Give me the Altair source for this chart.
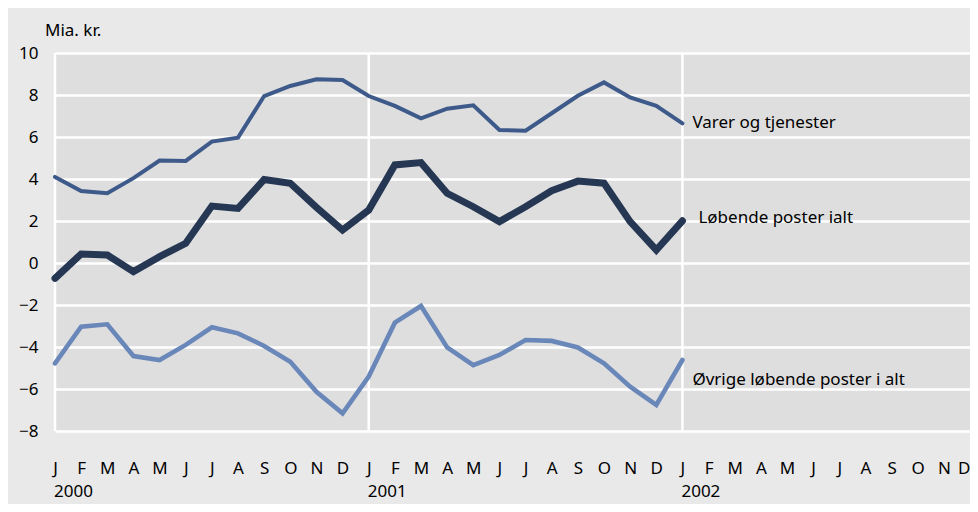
import altair as alt
import pandas as pd

month_letters = ["J", "F", "M", "A", "M", "J", "J", "A", "S", "O", "N", "D"]
years = ["2000", "2001", "2002"]
year_start_index = [0, 12, 24]
month_index = list(range(25))

varer = [4.1, 3.43, 3.32, 4.04, 4.88, 4.86, 5.78, 5.97, 7.95, 8.43, 8.75, 8.71,
         7.95, 7.48, 6.89, 7.35, 7.51, 6.33, 6.3, 7.13, 7.96, 8.6, 7.88, 7.48, 6.65]
lobende = [-0.73, 0.43, 0.38, -0.41, 0.3, 0.94, 2.71, 2.6, 3.98, 3.8, 2.65, 1.57,
           2.52, 4.67, 4.78, 3.32, 2.68, 1.97, 2.68, 3.44, 3.9, 3.8, 1.97, 0.62, 2.01]
ovrige = [-4.78, -3.03, -2.92, -4.43, -4.62, -3.9, -3.06, -3.35, -3.95, -4.7, -6.13, -7.16,
          -5.41, -2.84, -2.05, -4.02, -4.86, -4.38, -3.67, -3.71, -4.02, -4.78, -5.89, -6.76, -4.62]

series_names = ["Varer og tjenester", "Løbende poster ialt", "Øvrige løbende poster i alt"]
series_values = [varer, lobende, ovrige]
colors = ["#3e5a8a", "#263753", "#6a87ba"]
widths = [4, 7, 4.6]
label_y = [6.65, 2.15, -5.57]
label_dx = [10, 16, 10]
y_ticks = [-8, -6, -4, -2, 0, 2, 4, 6, 8, 10]

FONT = "Noto Sans"
FS = 17
W, H = 915, 378

label_expr = "[" + ",".join("'%s'" % m for m in month_letters) + "][datum.value % 12]"

x_axis = alt.Axis(values=list(range(36)), labelExpr=label_expr, grid=False, domain=False,
                  ticks=False, labelPadding=29, labelFont=FONT, labelFontSize=FS,
                  labelColor="black", labelOverlap=False, labelFlush=False, labelBound=False,
                  labelAlign={"condition": {"test": "datum.value == 35", "value": "right"},
                              "value": "center"},
                  title=None)
y_axis = alt.Axis(values=y_ticks, grid=True, gridColor="white", gridWidth=2.5, gridOpacity=1,
                  domain=False, ticks=False, labelPadding=17, labelFont=FONT,
                  labelFontSize=FS, labelColor="black", title=None, labelFlush=False)

x_scale = alt.Scale(domain=[0, 35], nice=False, zero=False)
y_scale = alt.Scale(domain=[-8, 10], nice=False, zero=False)


def X():
    return alt.X("m:Q", scale=x_scale, axis=x_axis)


def Y():
    return alt.Y("v:Q", scale=y_scale, axis=y_axis)


layers = []

rules_df = pd.DataFrame({"m": year_start_index})
layers.append(alt.Chart(rules_df).mark_rule(color="white", strokeWidth=2.5).encode(x=X()))

for name, vals, col, w in zip(series_names, series_values, colors, widths):
    df = pd.DataFrame({"m": month_index, "v": vals})
    layers.append(
        alt.Chart(df).mark_line(color=col, strokeWidth=w, strokeCap="round").encode(x=X(), y=Y())
    )

for name, ly, dx in zip(series_names, label_y, label_dx):
    df = pd.DataFrame({"m": [month_index[-1]], "v": [ly], "t": [name]})
    layers.append(
        alt.Chart(df).mark_text(align="left", baseline="middle", dx=dx, font=FONT,
                                fontSize=FS, color="black").encode(x=X(), y=Y(), text="t:N")
    )

years_df = pd.DataFrame({"m": year_start_index, "year": years})
layers.append(
    alt.Chart(years_df).mark_text(align="left", baseline="middle", dx=-1, font=FONT,
                                  fontSize=FS, color="black").encode(
        x=X(), y=alt.value(H + 61), text="year:N")
)

chart = alt.layer(*layers).properties(
    width=W, height=H,
    background="#e9e9e9",
    autosize=alt.AutoSizeParams(type="none"),
    padding={"left": 47, "top": 45, "right": 0, "bottom": 73},
    title=alt.TitleParams("Mia. kr.", anchor="start", frame="group", dx=-10, offset=4,
                          font=FONT, fontSize=FS, fontWeight="normal", color="black"),
).configure_view(fill="#dedede", stroke=None)

chart.save("out.html", embed_options={"renderer": "svg", "actions": False})
